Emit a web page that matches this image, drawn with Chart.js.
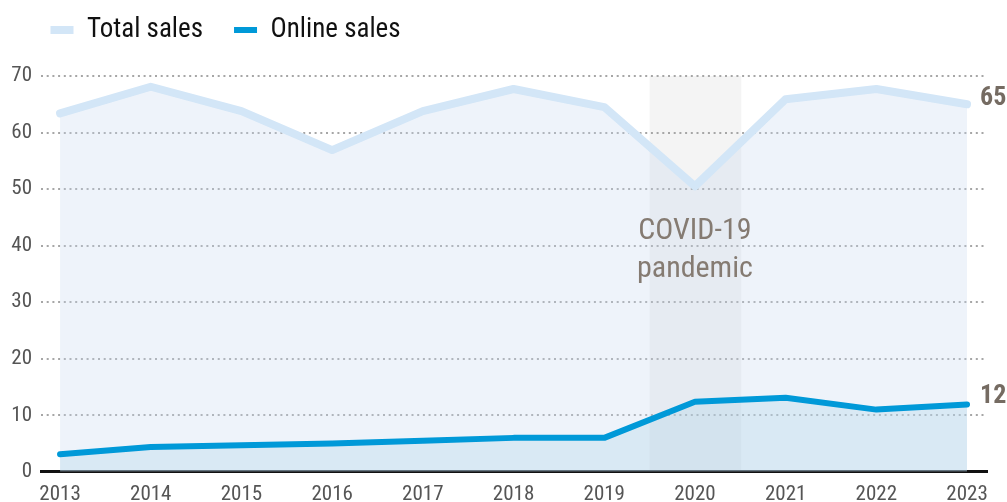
<!DOCTYPE html>
<html>
<head>
<meta charset="utf-8">
<script src="https://cdn.jsdelivr.net/npm/chart.js@4.4.0/dist/chart.umd.min.js"></script>
<style>
  html, body { margin: 0; padding: 0; background: #fff; }
  #wrap { width: 1007px; height: 502px; }
</style>
</head>
<body>
<div id="wrap"><canvas id="salesChart" width="1007" height="502"></canvas></div>
<script>
const years = [2013, 2014, 2015, 2016, 2017, 2018, 2019, 2020, 2021, 2022, 2023];
const totalSales = [63.4, 68.1, 63.8, 56.9, 63.8, 67.7, 64.5, 50.5, 65.9, 67.7, 65.0];
const onlineSales = [3.1, 4.4, 4.7, 5.0, 5.5, 6.0, 6.0, 12.4, 13.1, 11.0, 11.9];
const yTicks = [0, 10, 20, 30, 40, 50, 60, 70];
const covidSpan = [2019.5, 2020.5];
const covidLabel = ['COVID-19', 'pandemic'];

const FONT = "'Liberation Sans Narrow', 'Roboto Condensed', 'DejaVu Sans Condensed', sans-serif";

const ctx = document.getElementById('salesChart').getContext('2d');

// y labels are mirrored (so they are not clipped), pull them back left of the plot
ctx.font = '21px ' + FONT;
const widestY = Math.max(...yTicks.map(v => ctx.measureText(String(v)).width));

// shaded band for the pandemic year, drawn under grid and series
const bandPlugin = {
  id: 'covidBand',
  beforeDraw(chart) {
    const {ctx, chartArea, scales: {x}} = chart;
    const x0 = x.getPixelForValue(covidSpan[0]);
    const x1 = x.getPixelForValue(covidSpan[1]) + 1;
    ctx.save();
    ctx.fillStyle = '#f4f4f4';
    ctx.fillRect(x0, chartArea.top, x1 - x0, chartArea.bottom - chartArea.top);
    ctx.restore();
  }
};

// annotation text and end-of-line value labels
const labelPlugin = {
  id: 'endLabels',
  afterDatasetsDraw(chart) {
    const {ctx, scales: {x, y}} = chart;
    ctx.save();
    ctx.fillStyle = '#857b72';
    ctx.font = '30px ' + FONT;
    ctx.textAlign = 'center';
    ctx.textBaseline = 'alphabetic';
    const cx = x.getPixelForValue((covidSpan[0] + covidSpan[1]) / 2);
    ctx.fillText(covidLabel[0], cx, y.getPixelForValue(41.1));
    ctx.fillText(covidLabel[1], cx, y.getPixelForValue(34.4));

    ctx.fillStyle = '#756b62';
    ctx.font = 'bold 26px ' + FONT;
    ctx.textAlign = 'left';
    chart.data.datasets.forEach(ds => {
      const last = ds.data.length - 1;
      const px = x.getPixelForValue(years[last]) + 13;
      const py = y.getPixelForValue(ds.data[last]) + (ds.data[last] < 20 ? -2 : 1);
      ctx.fillText(String(Math.round(ds.data[last])), px, py);
    });
    ctx.restore();
  }
};

new Chart(ctx, {
  type: 'line',
  data: {
    labels: years,
    datasets: [{
      label: 'Total sales',
      data: totalSales,
      borderColor: '#d3e6f7',
      backgroundColor: 'rgba(200, 215, 240, 0.3)',
      borderWidth: 8,
      borderCapStyle: 'round',
      borderJoinStyle: 'round',
      fill: 'origin',
      pointRadius: 0,
      tension: 0,
      order: 1
    }, {
      label: 'Online sales',
      data: onlineSales,
      borderColor: '#0099d8',
      backgroundColor: 'rgba(168, 210, 230, 0.3)',
      borderWidth: 6,
      borderCapStyle: 'round',
      borderJoinStyle: 'round',
      fill: 'origin',
      pointRadius: 0,
      tension: 0,
      order: 0
    }]
  },
  options: {
    responsive: false,
    animation: false,
    layout: {
      padding: { left: 19.5, right: 20, top: -14.5, bottom: -15 }
    },
    scales: {
      x: {
        type: 'linear',
        min: 2012.79,
        max: 2023.22,
        afterBuildTicks: scale => { scale.ticks = years.map(v => ({ value: v })); },
        ticks: {
          color: '#555',
          font: { family: FONT, size: 21 },
          padding: 10,
          maxRotation: 0,
          autoSkip: false,
          callback: v => String(v)
        },
        grid: { display: true, color: 'transparent', drawTicks: false },
        border: { display: true, color: '#111', width: 3 }
      },
      y: {
        min: 0,
        max: 70,
        afterBuildTicks: scale => { scale.ticks = yTicks.map(v => ({ value: v })); },
        afterFit: scale => { scale.width = 21.5; },
        ticks: {
          color: '#555',
          font: { family: FONT, size: 21 },
          mirror: true,
          crossAlign: 'far',
          padding: -(9 + widestY)
        },
        grid: {
          color: c => (c.tick && c.tick.value === 0) ? 'transparent' : '#a6a6a6',
          lineWidth: 2,
          drawTicks: false
        },
        border: { display: false, dash: [2, 3.7] }
      }
    },
    plugins: {
      legend: {
        position: 'top',
        align: 'start',
        labels: {
          usePointStyle: true,
          pointStyle: 'line',
          pointStyleWidth: 23,
          padding: 31,
          color: '#111',
          font: { family: FONT, size: 27 },
          sort: (a, b) => a.datasetIndex - b.datasetIndex
        }
      },
      // empty spacer between legend and plot area
      title: {
        display: true,
        text: '',
        weight: 500,
        padding: 0,
        font: { size: 10, lineHeight: '22.5px' }
      },
      tooltip: { enabled: false }
    }
  },
  plugins: [bandPlugin, labelPlugin]
});
</script>
</body>
</html>
